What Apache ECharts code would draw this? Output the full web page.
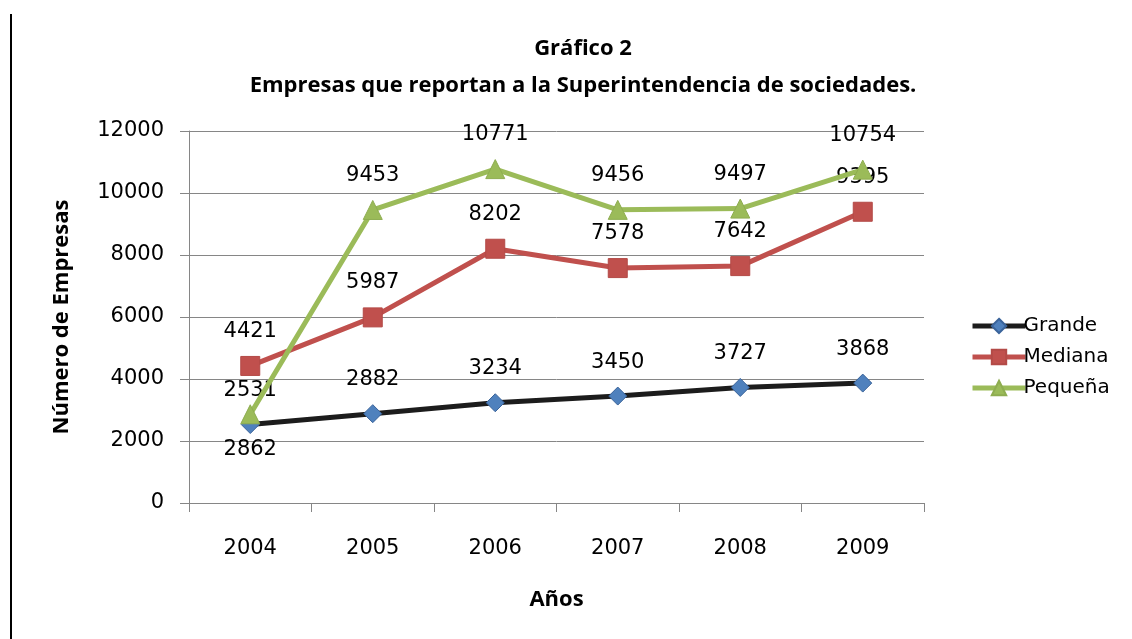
<!DOCTYPE html>
<html>
<head>
<meta charset="utf-8">
<script src="https://cdn.jsdelivr.net/npm/echarts@6/dist/echarts.min.js"></script>
<style>
  html, body { margin: 0; padding: 0; background: #fff; }
  #chart { width: 1132px; height: 639px; }
</style>
</head>
<body>
<div id="chart"></div>
<script>
// datos
var years = ['2004', '2005', '2006', '2007', '2008', '2009'];
var grande = [2531, 2882, 3234, 3450, 3727, 3868];
var mediana = [4421, 5987, 8202, 7578, 7642, 9395];
var pequena = [2862, 9453, 10771, 9456, 9497, 10754];

var numFont = 'DejaVu Sans';
var boldFont = 'Open Sans';

var labelTop = {
  show: true,
  position: 'top',
  distance: 14,
  color: '#000',
  fontFamily: numFont,
  fontSize: 21
};

var myChart = echarts.init(document.getElementById('chart'));
myChart.setOption({
  backgroundColor: '#ffffff',
  animation: false,
  title: {
    text: 'Gráfico 2\nEmpresas que reportan a la Superintendencia de sociedades.',
    left: 578,
    top: 25,
    textAlign: 'center',
    textStyle: {
      color: '#000',
      fontFamily: boldFont,
      fontWeight: 'bold',
      fontSize: 22,
      lineHeight: 37
    }
  },
  grid: {
    left: 189,
    right: 208,
    top: 131,
    bottom: 136
  },
  legend: {
    orient: 'vertical',
    left: 965,
    top: 311,
    itemWidth: 53,
    itemHeight: 18,
    itemGap: 11,
    lineStyle: { width: 5 },
    textStyle: {
      color: '#000',
      fontFamily: numFont,
      fontSize: 20,
      padding: [0, 0, 0, -7]
    },
    data: ['Grande', 'Mediana', 'Pequeña']
  },
  xAxis: {
    type: 'category',
    data: years,
    boundaryGap: true,
    name: 'Años',
    nameLocation: 'middle',
    nameGap: 86,
    nameTextStyle: {
      color: '#000',
      fontFamily: boldFont,
      fontWeight: 'bold',
      fontSize: 22
    },
    axisLine: { lineStyle: { color: '#868686', width: 1 } },
    axisTick: { show: true, length: 9, lineStyle: { color: '#868686' } },
    axisLabel: {
      margin: 35,
      color: '#000',
      fontFamily: numFont,
      fontSize: 21
    }
  },
  yAxis: {
    type: 'value',
    min: 0,
    max: 12000,
    interval: 2000,
    name: 'Número de Empresas',
    nameLocation: 'middle',
    nameGap: 116,
    nameRotate: 90,
    nameTextStyle: {
      color: '#000',
      fontFamily: boldFont,
      fontWeight: 'bold',
      fontSize: 22
    },
    axisLine: { show: true, lineStyle: { color: '#868686', width: 1 } },
    axisTick: { show: true, length: 9, lineStyle: { color: '#868686' } },
    splitLine: { lineStyle: { color: '#868686', width: 1 } },
    axisLabel: {
      margin: 25,
      color: '#000',
      fontFamily: numFont,
      fontSize: 21,
      formatter: function (v) { return String(v); }
    }
  },
  graphic: [{
    type: 'line',
    shape: { x1: 11, y1: 14, x2: 11, y2: 639 },
    style: { stroke: '#000', lineWidth: 2 }
  }],
  series: [
    {
      name: 'Grande',
      type: 'line',
      data: grande,
      symbol: 'diamond',
      symbolSize: 18,
      lineStyle: { color: '#1c1c1c', width: 5 },
      itemStyle: { color: '#4F81BD', borderColor: '#3A639A', borderWidth: 1 },
      label: labelTop,
      z: 3
    },
    {
      name: 'Mediana',
      type: 'line',
      data: mediana,
      symbol: 'rect',
      symbolSize: 19,
      lineStyle: { color: '#C0504D', width: 5 },
      itemStyle: { color: '#C0504D', borderColor: '#B34A47', borderWidth: 1 },
      label: labelTop,
      z: 4
    },
    {
      name: 'Pequeña',
      type: 'line',
      data: pequena.map(function (v, i) {
        if (i === 0) {
          return { value: v, label: { position: 'bottom', distance: 15 } };
        }
        return v;
      }),
      symbol: 'triangle',
      symbolSize: 19,
      lineStyle: { color: '#9BBB59', width: 5 },
      itemStyle: { color: '#9BBB59', borderColor: '#8EAD50', borderWidth: 1 },
      label: labelTop,
      z: 5
    }
  ]
});
</script>
</body>
</html>
